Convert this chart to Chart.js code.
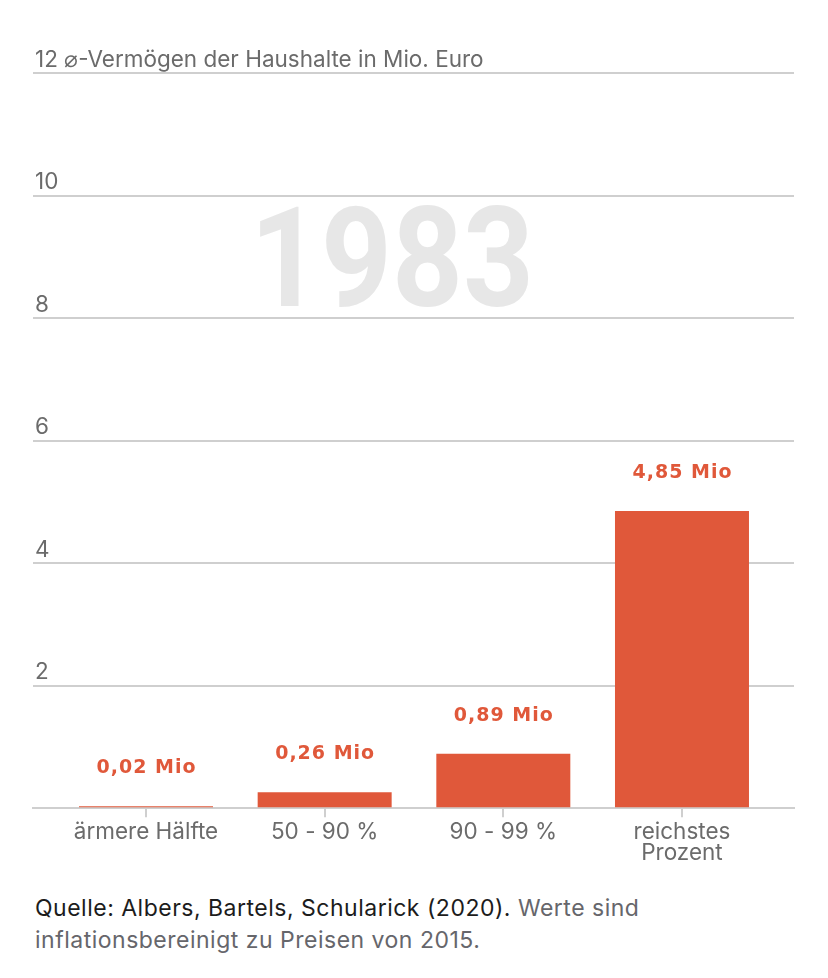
<!DOCTYPE html>
<html>
<head>
<meta charset="utf-8">
<script src="https://cdn.jsdelivr.net/npm/chart.js@4.4.1/dist/chart.umd.min.js"></script>
<style>
  html, body { margin: 0; padding: 0; background: #fff; }
  body { width: 828px; height: 978px; overflow: hidden; font-family: Inter, "Noto Sans", sans-serif; }
  #wrap { position: relative; width: 828px; height: 868px; }
  #footer { position: absolute; left: 35px; top: 892px; width: 760px; font-size: 23px; letter-spacing: 0.5px; line-height: 32px; color: #66666b; }
  #footer .src { color: #1c1c1c; }
</style>
</head>
<body>
<div id="wrap"><canvas id="c" width="828" height="868"></canvas></div>
<div id="footer"><span class="src">Quelle: Albers, Bartels, Schularick (2020).</span> Werte sind inflationsbereinigt zu Preisen von 2015.</div>
<script>
const categories = ["ärmere Hälfte", "50 - 90 %", "90 - 99 %", ["reichstes", "Prozent"]];
const values = [0.02, 0.26, 0.89, 4.85];
const valueLabels = ["0,02 Mio", "0,26 Mio", "0,89 Mio", "4,85 Mio"];
const yTicks = [0, 2, 4, 6, 8, 10, 12];
const axisTitle = "⌀-Vermögen der Haushalte in Mio. Euro";
const yearLabel = "1983";

const RED = "#e0583a";
const GRID = "#cfcfcf";
const TXT = "#6b6b6b";
const FONT = "Inter, 'Noto Sans', sans-serif";

const yearPlugin = {
  id: "year",
  beforeDatasetsDraw(chart) {
    const {ctx, chartArea} = chart;
    ctx.save();
    ctx.fillStyle = "#e7e7e7";
    ctx.font = "bold 139px Roboto, sans-serif";
    ctx.textAlign = "center";
    ctx.textBaseline = "alphabetic";
    ctx.translate(chartArea.left + 359, chartArea.top + 233);
    ctx.scale(0.89, 1);
    ctx.fillText(yearLabel, 0, 0);
    ctx.restore();
  }
};

const valueLabelPlugin = {
  id: "valueLabels",
  afterDatasetsDraw(chart) {
    const {ctx} = chart;
    const meta = chart.getDatasetMeta(0);
    ctx.save();
    ctx.fillStyle = RED;
    ctx.font = "bold 19px 'DejaVu Sans', sans-serif";
    if ("letterSpacing" in ctx) ctx.letterSpacing = "1px";
    ctx.textAlign = "center";
    ctx.textBaseline = "middle";
    meta.data.forEach((bar, i) => {
      ctx.fillText(valueLabels[i], bar.x + 0.5, bar.y - 38);
    });
    ctx.restore();
  }
};

new Chart(document.getElementById("c"), {
  type: "bar",
  data: {
    datasets: [{
      data: values.map((v, i) => ({x: i, y: v})),
      backgroundColor: RED,
      borderWidth: 0,
      barPercentage: 0.75,
      categoryPercentage: 1,
      minBarLength: 2
    }]
  },
  options: {
    responsive: false,
    animation: false,
    events: [],
    layout: { padding: { left: 29, right: 34, top: 73, bottom: 0 } },
    plugins: { legend: { display: false }, tooltip: { enabled: false } },
    scales: {
      x: {
        type: "linear",
        offset: false,
        min: -0.6325,
        max: 3.627,
        afterBuildTicks(scale) { scale.ticks = [0, 1, 2, 3].map(v => ({value: v})); },
        ticks: {
          includeBounds: false,
          stepSize: 1,
          autoSkip: false,
          maxRotation: 0,
          padding: 4,
          color: TXT,
          font: { family: FONT, size: 22.5, lineHeight: 0.95 },
          callback: (v) => categories[v]
        },
        grid: { display: true, offset: false, drawOnChartArea: false, drawTicks: true, tickLength: 9, color: GRID, lineWidth: 2 },
        border: { display: true, color: GRID, width: 2 }
      },
      y: {
        min: 0,
        max: 12,
        afterBuildTicks(scale) { scale.ticks = yTicks.map(v => ({value: v})); },
        ticks: {
          mirror: true,
          padding: 2,
          labelOffset: -13,
          color: TXT,
          font: { family: FONT, size: 22.5 },
          callback: (v) => v === 0 ? "" : (v === 12 ? "12 " + axisTitle : String(v))
        },
        grid: { color: GRID, lineWidth: 2, drawTicks: false },
        border: { display: false }
      }
    }
  },
  plugins: [yearPlugin, valueLabelPlugin]
});
</script>
</body>
</html>
